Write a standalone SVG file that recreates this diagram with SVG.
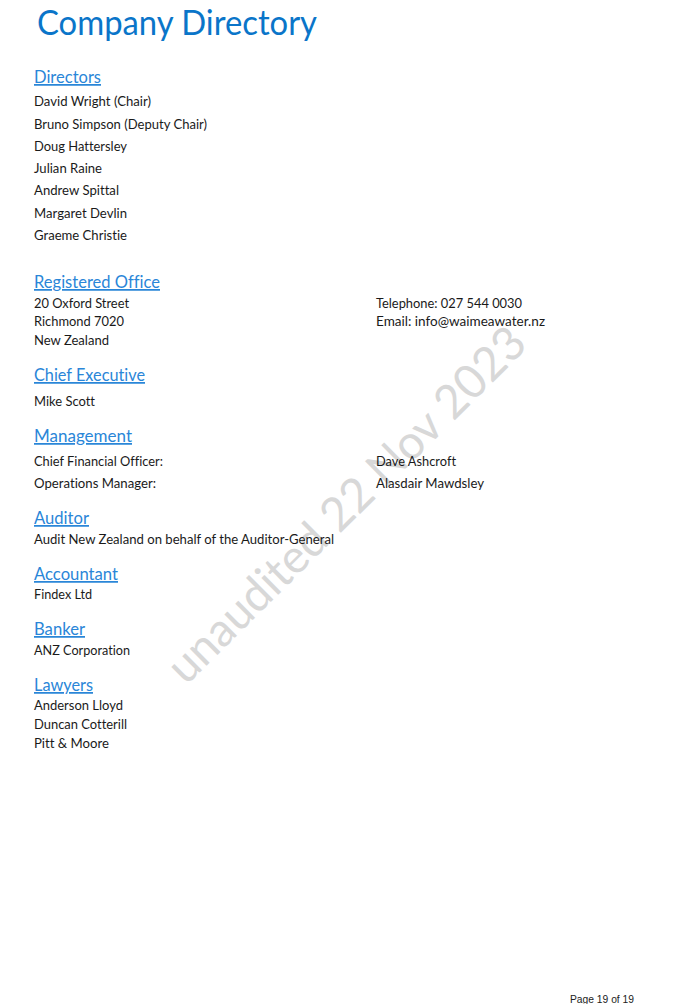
<svg xmlns="http://www.w3.org/2000/svg" width="689" height="1004" viewBox="0 0 689 1004">
<style>
text{font-family:Lato,"Liberation Sans",sans-serif;white-space:pre;font-variant-ligatures:none}
.t{font-size:13.8px;fill:#1a1a1a}
.h{font-size:17.5px;fill:#2a86d8;text-decoration:underline}
.title{font-size:34px;fill:#0a75c9}
.wm{font-size:47px;fill:#d8d8d8}
.pg{font-family:"Liberation Sans",Arial,sans-serif;font-size:10.5px;fill:#222}
</style>
<rect width="689" height="1004" fill="#fff"/>
<g id="watermark"><text class="wm" transform="translate(186 686) rotate(-44.7)" textLength="483" lengthAdjust="spacingAndGlyphs">unaudited 22 Nov 2023</text></g>
<g id="title"><text class="title" x="37" y="35" textLength="280" lengthAdjust="spacingAndGlyphs">Company Directory</text></g>
<g id="directors">
<text class="h" x="34" y="83" textLength="67" lengthAdjust="spacingAndGlyphs">Directors</text>
<text class="t" x="34" y="106" textLength="117" lengthAdjust="spacingAndGlyphs">David Wright (Chair)</text>
<text class="t" x="34" y="129" textLength="173" lengthAdjust="spacingAndGlyphs">Bruno Simpson (Deputy Chair)</text>
<text class="t" x="34" y="151" textLength="93" lengthAdjust="spacingAndGlyphs">Doug Hattersley</text>
<text class="t" x="34" y="173" textLength="68" lengthAdjust="spacingAndGlyphs">Julian Raine</text>
<text class="t" x="34" y="195" textLength="85" lengthAdjust="spacingAndGlyphs">Andrew Spittal</text>
<text class="t" x="34" y="218" textLength="93" lengthAdjust="spacingAndGlyphs">Margaret Devlin</text>
<text class="t" x="34" y="240" textLength="93" lengthAdjust="spacingAndGlyphs">Graeme Christie</text>
</g>
<g id="registered-office">
<text class="h" x="34" y="288" textLength="126" lengthAdjust="spacingAndGlyphs">Registered Office</text>
<text class="t" x="34" y="308" textLength="95" lengthAdjust="spacingAndGlyphs">20 Oxford Street</text>
<text class="t" x="34" y="326" textLength="90" lengthAdjust="spacingAndGlyphs">Richmond 7020</text>
<text class="t" x="34" y="345" textLength="75" lengthAdjust="spacingAndGlyphs">New Zealand</text>
<text class="t" x="376" y="308" textLength="146" lengthAdjust="spacingAndGlyphs">Telephone: 027 544 0030</text>
<text class="t" x="376" y="326" textLength="169" lengthAdjust="spacingAndGlyphs">Email: info@waimeawater.nz</text>
</g>
<g id="chief-executive">
<text class="h" x="34" y="381" textLength="111" lengthAdjust="spacingAndGlyphs">Chief Executive</text>
<text class="t" x="34" y="406" textLength="61" lengthAdjust="spacingAndGlyphs">Mike Scott</text>
</g>
<g id="management">
<text class="h" x="34" y="442" textLength="98" lengthAdjust="spacingAndGlyphs">Management</text>
<text class="t" x="34" y="466" textLength="129" lengthAdjust="spacingAndGlyphs">Chief Financial Officer:</text>
<text class="t" x="34" y="488" textLength="122" lengthAdjust="spacingAndGlyphs">Operations Manager:</text>
<text class="t" x="376" y="466" textLength="80" lengthAdjust="spacingAndGlyphs">Dave Ashcroft</text>
<text class="t" x="376" y="488" textLength="108" lengthAdjust="spacingAndGlyphs">Alasdair Mawdsley</text>
</g>
<g id="auditor">
<text class="h" x="34" y="524" textLength="55" lengthAdjust="spacingAndGlyphs">Auditor</text>
<text class="t" x="34" y="544" textLength="300" lengthAdjust="spacingAndGlyphs">Audit New Zealand on behalf of the Auditor-General</text>
</g>
<g id="accountant">
<text class="h" x="34" y="580" textLength="84" lengthAdjust="spacingAndGlyphs">Accountant</text>
<text class="t" x="34" y="599" textLength="58" lengthAdjust="spacingAndGlyphs">Findex Ltd</text>
</g>
<g id="banker">
<text class="h" x="34" y="635" textLength="51" lengthAdjust="spacingAndGlyphs">Banker</text>
<text class="t" x="34" y="655" textLength="96" lengthAdjust="spacingAndGlyphs">ANZ Corporation</text>
</g>
<g id="lawyers">
<text class="h" x="34" y="691" textLength="59" lengthAdjust="spacingAndGlyphs">Lawyers</text>
<text class="t" x="34" y="710" textLength="89" lengthAdjust="spacingAndGlyphs">Anderson Lloyd</text>
<text class="t" x="34" y="729" textLength="93" lengthAdjust="spacingAndGlyphs">Duncan Cotterill</text>
<text class="t" x="34" y="748" textLength="75" lengthAdjust="spacingAndGlyphs">Pitt &amp; Moore</text>
</g>
<g id="footer"><text class="pg" x="570" y="1003" textLength="64" lengthAdjust="spacingAndGlyphs">Page 19 of 19</text></g>
</svg>
